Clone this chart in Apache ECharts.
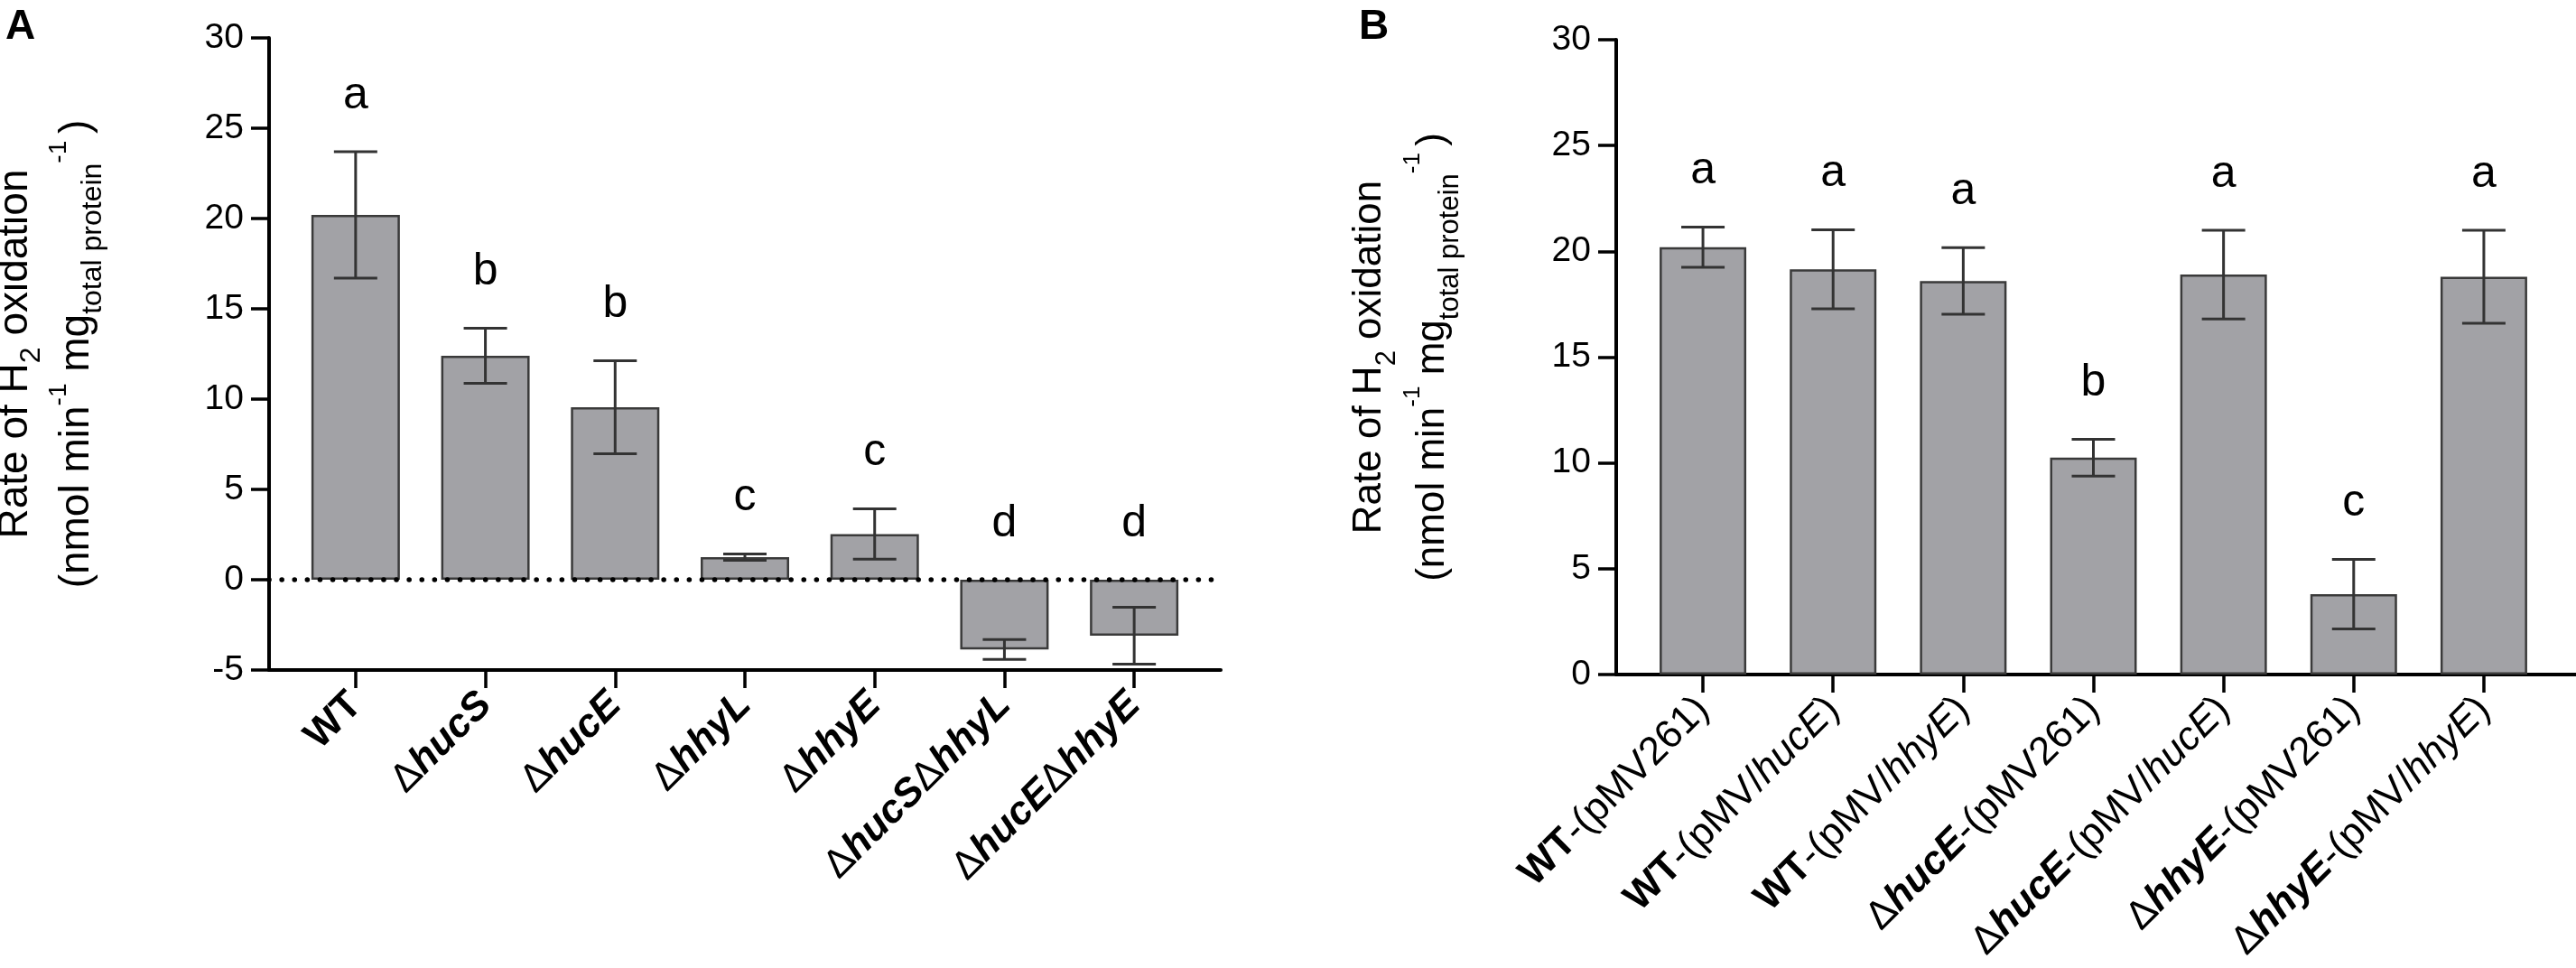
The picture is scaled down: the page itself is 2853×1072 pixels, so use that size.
<!DOCTYPE html>
<html>
<head>
<meta charset="utf-8">
<title>H2 oxidation rates</title>
<script src="https://cdn.jsdelivr.net/npm/echarts@6/dist/echarts.min.js"></script>
<style>
  html, body { margin: 0; padding: 0; background: #fff; }
  #chart { width: 2853px; height: 1072px; }
</style>
</head>
<body>
<div id="chart"></div>
<script>
// panel A: deletion strains
const strainsA = ['WT', 'ΔhucS', 'ΔhucE', 'ΔhhyL', 'ΔhhyE', 'ΔhucSΔhhyL', 'ΔhucEΔhhyE'];
const meanA = [20.2, 12.4, 9.55, 1.25, 2.53, -3.86, -3.1];
const sdA = [3.5, 1.52, 2.58, 0.17, 1.39, 0.55, 1.58];
const lettersA = ['a', 'b', 'b', 'c', 'c', 'd', 'd'];

// panel B: complemented strains
const strainsB = ['WT-(pMV261)', 'WT-(pMV/hucE)', 'WT-(pMV/hhyE)', 'ΔhucE-(pMV261)',
  'ΔhucE-(pMV/hucE)', 'ΔhhyE-(pMV261)', 'ΔhhyE-(pMV/hhyE)'];
const meanB = [20.2, 19.15, 18.6, 10.25, 18.9, 3.8, 18.8];
const sdB = [0.95, 1.87, 1.57, 0.87, 2.1, 1.64, 2.2];
const lettersB = ['a', 'a', 'a', 'b', 'a', 'c', 'a'];

// y axis ranges
const rangeA = [-5, 30];
const rangeB = [0, 30];
const step = 5;

const FONT = '"Liberation Sans", Arial, Helvetica, sans-serif';

// strain name -> rich text (WT bold, gene names bold italic, plasmid plain)
function richLabel(name) {
  const m = name.match(/^([^-]+)(?:-\((pMV)(\/?)([^)]*)\))?$/);
  let out = '';
  m[1].split(/(Δ)/).forEach(function (part) {
    if (!part) return;
    if (part === 'Δ') out += '{d|Δ}';
    else if (part === 'WT') out += '{b|WT}';
    else out += '{bi|' + part + '}';
  });
  if (m[2]) {
    out += '{n|-(pMV' + m[3] + '}';
    if (/^\d+$/.test(m[4])) out += '{n|' + m[4] + ')}';
    else out += '{i|' + m[4] + '}{n|)}';
  }
  return out;
}

function labelRich(size) {
  return {
    b: { fontSize: size, fontWeight: 'bold', fontFamily: FONT, color: '#000' },
    bi: { fontSize: size, fontWeight: 'bold', fontStyle: 'italic', fontFamily: FONT, color: '#000' },
    d: { fontSize: size, fontWeight: 'normal', fontFamily: FONT, color: '#000' },
    n: { fontSize: size, fontFamily: FONT, color: '#000' },
    i: { fontSize: size, fontStyle: 'italic', fontFamily: FONT, color: '#000' }
  };
}

// y title: main text, subscripts and superscripts placed by line height + vertical align
function titleRich(size, lh) {
  const base = { fontFamily: FONT, color: '#000' };
  return {
    m: Object.assign({ fontSize: size, lineHeight: lh, verticalAlign: 'middle' }, base),
    sub: Object.assign({ fontSize: Math.round(size * 0.7), lineHeight: lh - 40, verticalAlign: 'bottom' }, base),
    sup: Object.assign({ fontSize: Math.round(size * 0.6), lineHeight: lh - 28, verticalAlign: 'top' }, base),
    sup2: Object.assign({ fontSize: Math.round(size * 0.6), lineHeight: lh - 52, verticalAlign: 'top' }, base)
  };
}

const yName = '{m|Rate of H}{sub|2}{m| oxidation}\n' +
  '{m|(nmol min}{sup|-1}{m| mg}{sub|total protein}{sup2|-1 }{m|)}';

// error bars and significance letters
function errorBars(letters) {
  return function (params, api) {
    const i = api.value(0), m = api.value(1), s = api.value(2);
    const x = api.coord([i, m])[0];
    const yHi = api.coord([i, m + s])[1];
    const yLo = api.coord([i, m - s])[1];
    const yTxt = api.coord([i, Math.max(m + s, 0)])[1] - 62;
    const cap = 24;
    const st = { stroke: '#333', lineWidth: 3 };
    return {
      type: 'group',
      children: [
        { type: 'line', shape: { x1: x, y1: yHi, x2: x, y2: yLo }, style: st },
        { type: 'line', shape: { x1: x - cap, y1: yHi, x2: x + cap, y2: yHi }, style: st },
        { type: 'line', shape: { x1: x - cap, y1: yLo, x2: x + cap, y2: yLo }, style: st },
        { type: 'text', style: { text: letters[params.dataIndex], x: x, y: yTxt,
          align: 'center', verticalAlign: 'middle', font: '50px ' + FONT, fill: '#000' } }
      ]
    };
  };
}

function outerY(grid, range, nameSize, lh, gap) {
  return {
    gridIndex: grid, type: 'value', min: range[0], max: range[1], interval: step,
    axisLine: { show: true, onZero: false, lineStyle: { color: '#000', width: 4 } },
    axisTick: { show: true, length: 20, lineStyle: { color: '#000', width: 3.5 } },
    axisLabel: { fontSize: 39, color: '#000', margin: 28, fontFamily: FONT },
    splitLine: { show: false },
    name: yName, nameLocation: 'middle', nameRotate: 90, nameGap: gap, nameMoveOverlap: false,
    nameTextStyle: { fontSize: nameSize, color: '#000', fontFamily: FONT, lineHeight: lh,
      rich: titleRich(nameSize, lh) }
  };
}

function innerY(grid, range) {
  return { gridIndex: grid, type: 'value', min: range[0], max: range[1], interval: step, show: false };
}

function outerX(grid) {
  return {
    gridIndex: grid, type: 'value', min: 0, max: 1,
    axisLine: { show: true, onZero: false, lineStyle: { color: '#000', width: 4 } },
    axisTick: { show: false }, axisLabel: { show: false }, splitLine: { show: false }
  };
}

function innerX(grid, cats) {
  return {
    gridIndex: grid, type: 'category', data: cats,
    axisLine: { show: false, onZero: false },
    axisTick: { show: true, alignWithLabel: true, length: 20, lineStyle: { color: '#000', width: 3.5 } },
    axisLabel: { interval: 0, rotate: 45, margin: 32, formatter: richLabel, rich: labelRich(44) }
  };
}

function barSeries(axis, values, width) {
  return {
    type: 'bar', xAxisIndex: axis, yAxisIndex: axis, data: values, barWidth: width,
    itemStyle: { color: '#a2a2a6', borderColor: '#3a3a3a', borderWidth: 2.5 }
  };
}

function errSeries(axis, means, sds, letters) {
  return {
    type: 'custom', xAxisIndex: axis, yAxisIndex: axis, z: 4,
    renderItem: errorBars(letters),
    encode: { x: 0, y: 1 },
    data: means.map(function (v, i) { return [i, v, sds[i]]; })
  };
}

const chart = echarts.init(document.getElementById('chart'));

const panelTitle = { fontSize: 46, fontWeight: 'bold', color: '#000', fontFamily: FONT };

chart.setOption({
  animation: false,
  backgroundColor: '#fff',
  textStyle: { fontFamily: FONT },
  title: [
    { text: 'A', left: 6, top: 7, padding: 0, textStyle: panelTitle },
    { text: 'B', left: 1505, top: 7, padding: 0, textStyle: panelTitle }
  ],
  grid: [
    { left: 298, top: 42, width: 1054, height: 700, outerBoundsMode: 'none' },
    { left: 322, top: 42, width: 1006, height: 700, outerBoundsMode: 'none' },
    { left: 1790, top: 44, width: 1063, height: 703, outerBoundsMode: 'none' },
    { left: 1814, top: 44, width: 1009, height: 703, outerBoundsMode: 'none' }
  ],
  xAxis: [outerX(0), innerX(1, strainsA), outerX(2), innerX(3, strainsB)],
  yAxis: [outerY(0, rangeA, 46, 68, 179), innerY(1, rangeA), outerY(2, rangeB, 44, 70, 168), innerY(3, rangeB)],
  series: [
    {
      // dotted zero line of panel A
      type: 'line', xAxisIndex: 0, yAxisIndex: 0, data: [], z: 5,
      markLine: {
        silent: true, symbol: 'none', label: { show: false },
        lineStyle: { color: '#000', width: 5.5, type: [0.1, 14], cap: 'round' },
        data: [{ yAxis: 0 }]
      }
    },
    barSeries(1, meanA, 98),
    errSeries(1, meanA, sdA, lettersA),
    barSeries(3, meanB, 96),
    errSeries(3, meanB, sdB, lettersB)
  ]
});
</script>
</body>
</html>
